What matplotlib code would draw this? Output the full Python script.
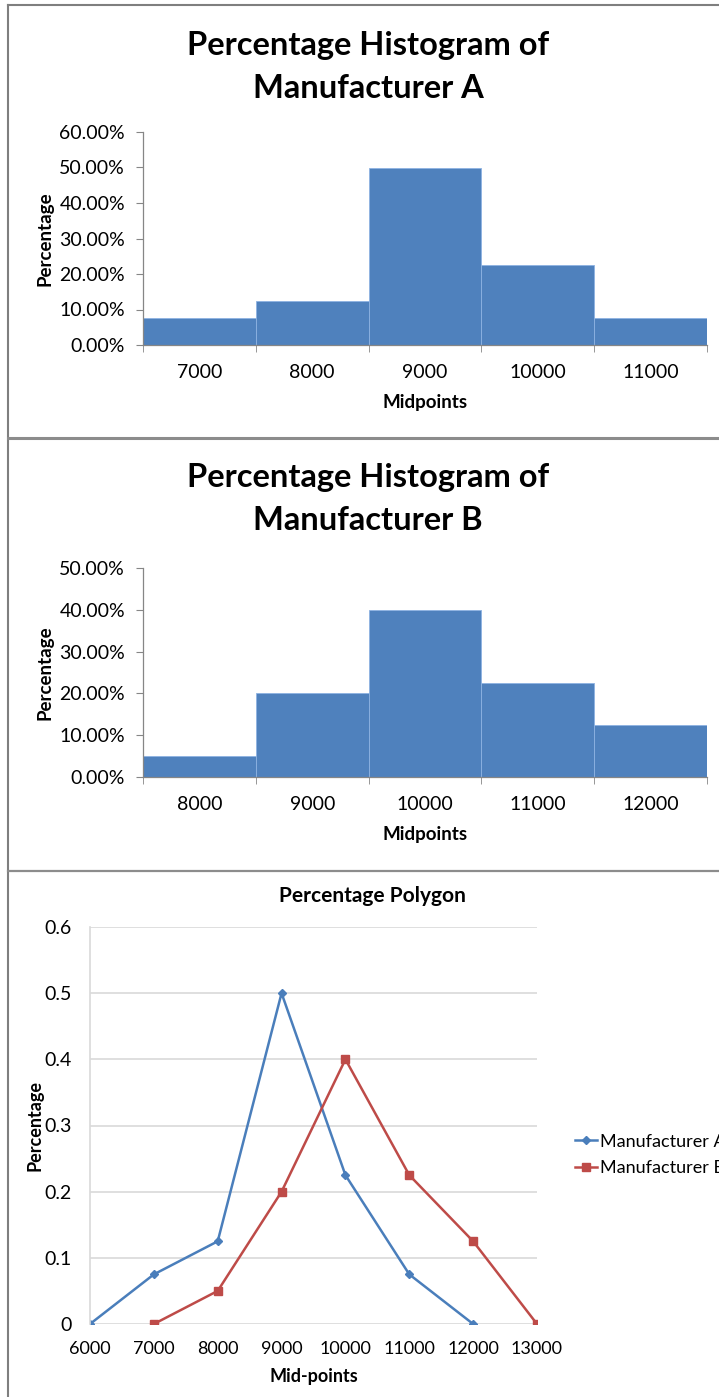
import matplotlib
matplotlib.use("Agg")
import matplotlib.pyplot as plt
from matplotlib.lines import Line2D
from matplotlib.ticker import PercentFormatter, MultipleLocator, FixedLocator

plt.rcParams['font.family'] = ['Lato', 'DejaVu Sans']

# ---- data ----
mid_a = ["7000", "8000", "9000", "10000", "11000"]
pct_a = [0.075, 0.125, 0.50, 0.225, 0.075]
mid_b = ["8000", "9000", "10000", "11000", "12000"]
pct_b = [0.05, 0.20, 0.40, 0.225, 0.125]

poly_x_a = [6000, 7000, 8000, 9000, 10000, 11000, 12000]
poly_y_a = [0, 0.075, 0.125, 0.5, 0.225, 0.075, 0]
poly_x_b = [7000, 8000, 9000, 10000, 11000, 12000, 13000]
poly_y_b = [0, 0.05, 0.2, 0.4, 0.225, 0.125, 0]

W, H = 719, 1397
fig = plt.figure(figsize=(W / 100, H / 100), dpi=100)

def rect(x0, y0, x1, y1):
    return [x0 / W, 1 - y1 / H, (x1 - x0) / W, (y1 - y0) / H]

def fx(x):
    return x / W

def fy(y):
    return 1 - y / H

BAR = "#4F81BD"
AXC = "#868686"
GRID = "#D9D9D9"
TICK_FS = 14
LAB_FS = 13.5

def histogram(axrect, cats, vals, ymax, title_lines, title_y):
    ax = fig.add_axes(axrect)
    pos = list(range(len(cats)))
    ax.bar(pos, vals, width=1.0, color=BAR, edgecolor="#8DB3E2", linewidth=0.6)
    ax.set_xlim(-0.5, len(cats) - 0.5)
    ax.set_ylim(0, ymax)
    ax.yaxis.set_major_locator(MultipleLocator(0.1))
    ax.yaxis.set_major_formatter(PercentFormatter(xmax=1, decimals=2))
    ax.set_xticks(pos)
    ax.set_xticklabels(cats)
    ax.xaxis.set_minor_locator(FixedLocator([p - 0.5 for p in pos] + [len(cats) - 0.5]))
    ax.tick_params(axis="x", which="major", length=0, pad=14, labelsize=TICK_FS)
    ax.tick_params(axis="x", which="minor", length=5, color=AXC, direction="out")
    ax.tick_params(axis="y", length=5, color=AXC, direction="out", labelsize=TICK_FS, pad=8)
    for s in ["top", "right"]:
        ax.spines[s].set_visible(False)
    for s in ["left", "bottom"]:
        ax.spines[s].set_color(AXC)
        ax.spines[s].set_linewidth(0.9)
    ax.set_xlabel("Midpoints", fontsize=LAB_FS, fontweight="bold", labelpad=9)
    ax.set_ylabel("Percentage", fontsize=LAB_FS, fontweight="bold", labelpad=4)
    for i, line in enumerate(title_lines):
        fig.text(fx(368), fy(title_y + 43 * i), line, ha="center", va="center",
                 fontsize=23.5, fontweight="bold")
    return ax

histogram(rect(143, 132, 707, 345), mid_a, pct_a, 0.6,
          ["Percentage Histogram of", "Manufacturer A"], 45)
histogram(rect(143, 568, 707, 777), mid_b, pct_b, 0.5,
          ["Percentage Histogram of", "Manufacturer B"], 478)

# ---- polygon ----
ax = fig.add_axes(rect(90, 927, 537, 1324))
ax.plot(poly_x_a, poly_y_a, color="#4A7EBB", linewidth=1.8, marker="D",
        markersize=4.5, label="Manufacturer A")
ax.plot(poly_x_b, poly_y_b, color="#BE4B48", linewidth=1.8, marker="s",
        markersize=6, label="Manufacturer B")
ax.set_xlim(6000, 13000)
ax.set_ylim(0, 0.6)
ax.xaxis.set_major_locator(MultipleLocator(1000))
ax.yaxis.set_major_locator(MultipleLocator(0.1))
ax.yaxis.set_major_formatter(plt.FuncFormatter(lambda v, p: "0" if abs(v) < 1e-9 else f"{v:g}"))
ax.grid(axis="y", color=GRID, linewidth=1.2)
ax.set_axisbelow(True)
for s in ["top", "right", "bottom"]:
    ax.spines[s].set_visible(False)
ax.spines["left"].set_color(GRID)
ax.spines["left"].set_linewidth(1.2)
ax.tick_params(axis="x", length=0, labelsize=13, pad=12)
ax.tick_params(axis="y", length=0, labelsize=14, pad=13)
ax.set_xlabel("Mid-points", fontsize=13, fontweight="bold", labelpad=8)
ax.set_ylabel("Percentage", fontsize=13, fontweight="bold", labelpad=1)
fig.text(fx(372), fy(896), "Percentage Polygon", ha="center", va="center",
         fontsize=15, fontweight="bold")
ax.legend(loc="center left", bbox_to_anchor=(fx(559), fy(1155)),
          bbox_transform=fig.transFigure, frameon=False, fontsize=13,
          handlelength=1.2, handletextpad=0.15, labelspacing=0.6)

# ---- frame lines ----
BORDER = "#7F7F7F"
fig.add_artist(Line2D([fx(8), fx(8)], [fy(5), 0], color=BORDER, linewidth=1.5,
                      transform=fig.transFigure))
fig.add_artist(Line2D([fx(8), 1], [fy(5), fy(5)], color=BORDER, linewidth=1.5,
                      transform=fig.transFigure))
fig.add_artist(Line2D([fx(8), 1], [fy(438), fy(438)], color="#8C8C8C", linewidth=2.2,
                      transform=fig.transFigure))
fig.add_artist(Line2D([fx(8), 1], [fy(871), fy(871)], color="#8C8C8C", linewidth=1.6,
                      transform=fig.transFigure))

fig.savefig("out.png", dpi=100)
